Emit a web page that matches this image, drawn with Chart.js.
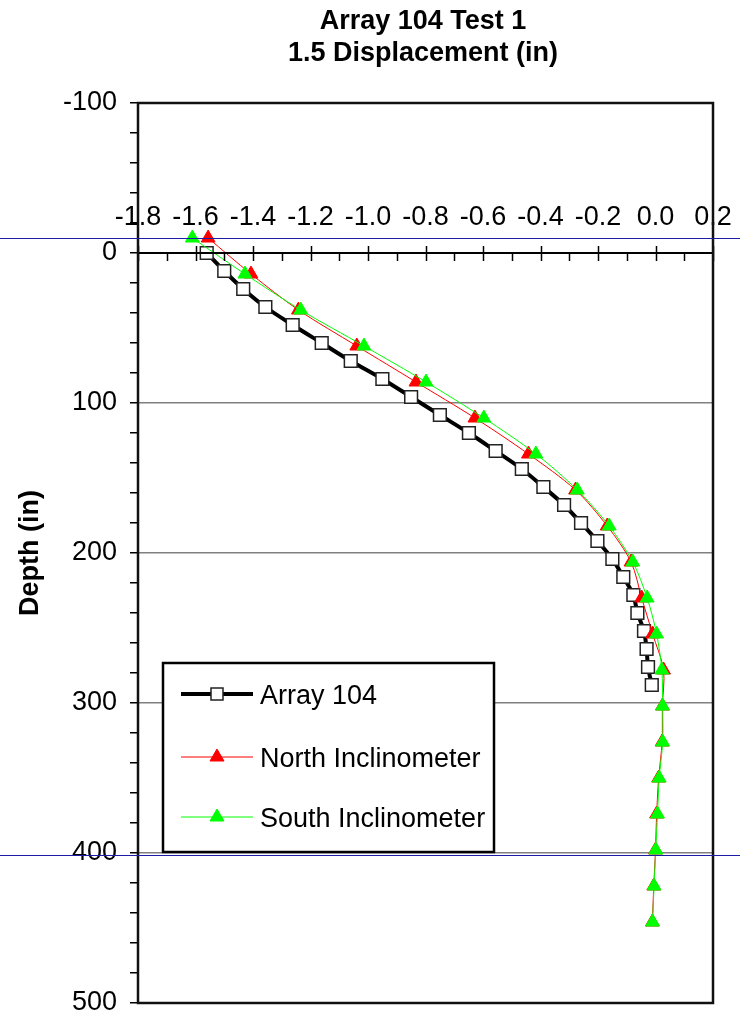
<!DOCTYPE html>
<html>
<head>
<meta charset="utf-8">
<script src="https://cdn.jsdelivr.net/npm/chart.js@4.4.0/dist/chart.umd.min.js"></script>
<style>
  html, body { margin: 0; padding: 0; background: #fff; }
  #wrap { width: 740px; height: 1016px; position: relative; }
</style>
</head>
<body>
<div id="wrap"><canvas id="myChart" width="740" height="1016"></canvas></div>
<script>
// chart text
const titleLines = ['Array 104 Test 1', '1.5 Displacement (in)']
const yTitle = 'Depth (in)'
const seriesNames = ['Array 104', 'North Inclinometer', 'South Inclinometer']

// depths (in) and displacements (in)
const arrayDepth = [0, 12, 24, 36, 48, 60, 72, 84, 96, 108, 120, 132, 144, 156, 168, 180, 192, 204, 216, 228, 240, 252, 264, 276, 288]
const arrayDisp = [-1.561, -1.500, -1.434, -1.357, -1.262, -1.161, -1.060, -0.950, -0.850, -0.750, -0.649, -0.556, -0.465, -0.390, -0.318, -0.259, -0.202, -0.150, -0.112, -0.077, -0.063, -0.040, -0.031, -0.026, -0.013]

const inclDepth = [-10, 14, 38, 62, 86, 110, 134, 158, 182, 206, 230, 254, 278, 302, 326, 350, 374, 398, 422, 446]
const northDisp = [-1.556, -1.407, -1.242, -1.039, -0.833, -0.628, -0.442, -0.278, -0.168, -0.085, -0.048, -0.010, 0.028, 0.024, 0.023, 0.011, 0.004, 0.000, -0.006, -0.011]
const southDisp = [-1.611, -1.428, -1.234, -1.014, -0.798, -0.597, -0.416, -0.272, -0.161, -0.079, -0.029, 0.004, 0.022, 0.025, 0.025, 0.013, 0.007, 0.001, -0.005, -0.010]

// axis ticks
const xTicks = [-1.8, -1.6, -1.4, -1.2, -1.0, -0.8, -0.6, -0.4, -0.2, 0.0, 0.2]
const xMinorTicks = [-1.7, -1.5, -1.3, -1.1, -0.9, -0.7, -0.5, -0.3, -0.1, 0.1]
const yTicks = [-100, 0, 100, 200, 300, 400, 500]

// stray blue guide lines in the original picture (depth values)
const guideDepths = [-10, 401.3]

const FONT = '"Liberation Sans", Arial, sans-serif'

const toPoints = (xs, ys) => xs.map((x, i) => ({ x: x, y: ys[i] }))

// draws axis at depth 0, frame, title, legend and the blue guide lines
const decorPlugin = {
    id: 'decor',
    afterDatasetsDraw(chart) {
        const ctx = chart.ctx
        const area = chart.chartArea
        const xs = chart.scales.x
        const ys = chart.scales.y
        const axisY = ys.getPixelForValue(0)

        ctx.save()
        // x axis line at depth 0
        ctx.strokeStyle = '#000'
        ctx.lineWidth = 2
        ctx.beginPath()
        ctx.moveTo(area.left, axisY)
        ctx.lineTo(area.right, axisY)
        ctx.stroke()

        ctx.lineWidth = 1.5
        xTicks.forEach(v => {
            const px = Math.round(xs.getPixelForValue(v)) + 0.5
            ctx.beginPath()
            ctx.moveTo(px, axisY - 7)
            ctx.lineTo(px, axisY + 8)
            ctx.stroke()
        })
        xMinorTicks.forEach(v => {
            const px = Math.round(xs.getPixelForValue(v)) + 0.5
            ctx.beginPath()
            ctx.moveTo(px, axisY)
            ctx.lineTo(px, axisY + 8)
            ctx.stroke()
        })

        ctx.fillStyle = '#000'
        ctx.font = '27px ' + FONT
        ctx.textAlign = 'center'
        ctx.textBaseline = 'alphabetic'
        xTicks.forEach(v => {
            ctx.fillText(v.toFixed(1), xs.getPixelForValue(v), axisY - 28)
        })

        // plot frame
        ctx.strokeStyle = '#111'
        ctx.lineWidth = 2.5
        ctx.strokeRect(area.left, area.top, area.right - area.left, area.bottom - area.top)

        // title
        ctx.font = 'bold 27px ' + FONT
        ctx.fillText(titleLines[0], 423, 29)
        ctx.fillText(titleLines[1], 423, 61)

        // legend
        const lx = 163, ly = 663, lw = 331, lh = 189
        ctx.fillStyle = '#fff'
        ctx.fillRect(lx, ly, lw, lh)
        ctx.strokeStyle = '#000'
        ctx.lineWidth = 2.5
        ctx.strokeRect(lx, ly, lw, lh)

        const rows = [694, 757, 817]
        chart.data.datasets.forEach((ds, i) => {
            const ry = rows[i]
            ctx.strokeStyle = ds.borderColor
            ctx.lineWidth = ds.borderWidth
            ctx.beginPath()
            ctx.moveTo(181, ry)
            ctx.lineTo(253, ry)
            ctx.stroke()
            ctx.fillStyle = ds.pointBackgroundColor
            ctx.strokeStyle = ds.pointBorderColor
            ctx.lineWidth = ds.pointBorderWidth
            ctx.beginPath()
            if (ds.pointStyle === 'rect') {
                ctx.rect(211, ry - 6, 12, 12)
            } else {
                ctx.moveTo(217, ry - 8)
                ctx.lineTo(224, ry + 4)
                ctx.lineTo(210, ry + 4)
                ctx.closePath()
            }
            ctx.fill()
            ctx.stroke()
            ctx.fillStyle = '#000'
            ctx.font = '27px ' + FONT
            ctx.textAlign = 'left'
            ctx.fillText(ds.label, 260, ry + 10)
        })

        // blue guide lines across the whole picture
        ctx.strokeStyle = '#1c1ca6'
        ctx.lineWidth = 1
        guideDepths.forEach(d => {
            const py = Math.round(ys.getPixelForValue(d)) + 0.5
            ctx.beginPath()
            ctx.moveTo(0, py)
            ctx.lineTo(chart.width, py)
            ctx.stroke()
        })
        ctx.restore()
    }
}

const chart = new Chart(document.querySelector('#myChart'), {
    type: 'scatter',
    data: {
        datasets: [{
            label: seriesNames[0],
            data: toPoints(arrayDisp, arrayDepth),
            showLine: true,
            borderColor: '#000',
            borderWidth: 4,
            tension: 0.3,
            pointStyle: 'rect',
            pointRadius: 9,
            pointBackgroundColor: '#fff',
            pointBorderColor: '#222',
            pointBorderWidth: 1.5,
            order: 2
        }, {
            label: seriesNames[1],
            data: toPoints(northDisp, inclDepth),
            showLine: true,
            borderColor: '#ff0000',
            borderWidth: 1,
            tension: 0.3,
            pointStyle: 'triangle',
            pointRadius: 8,
            pointBackgroundColor: '#ff0000',
            pointBorderColor: '#ff0000',
            pointBorderWidth: 1,
            order: 1
        }, {
            label: seriesNames[2],
            data: toPoints(southDisp, inclDepth),
            showLine: true,
            borderColor: '#00ff00',
            borderWidth: 1,
            tension: 0.3,
            pointStyle: 'triangle',
            pointRadius: 8,
            pointBackgroundColor: '#00ff00',
            pointBorderColor: '#00ff00',
            pointBorderWidth: 1,
            order: 0
        }]
    },
    options: {
        responsive: false,
        animation: false,
        layout: { padding: { top: 103, right: 27, bottom: 13, left: 0 } },
        plugins: {
            legend: { display: false },
            title: { display: false },
            tooltip: { enabled: false }
        },
        scales: {
            x: {
                type: 'linear',
                min: xTicks[0],
                max: xTicks[xTicks.length - 1],
                display: false
            },
            y: {
                type: 'linear',
                reverse: true,
                min: yTicks[0],
                max: yTicks[yTicks.length - 1],
                afterFit: s => {
                    s.width = 138
                    s.paddingTop = 0
                    s.paddingBottom = 0
                },
                border: { display: false },
                grid: {
                    color: c => (c.tick && yTicks.includes(c.tick.value) && c.tick.value > 0 && c.tick.value < 500) ? '#808080' : 'rgba(0,0,0,0)',
                    lineWidth: 1.5,
                    tickColor: '#000',
                    tickLength: 8,
                    tickWidth: 1.5
                },
                ticks: {
                    stepSize: 20,
                    autoSkip: false,
                    padding: 13,
                    color: '#000',
                    font: { family: FONT, size: 27 },
                    callback: v => yTicks.includes(v) ? v : ''
                },
                title: {
                    display: true,
                    text: yTitle,
                    color: '#000',
                    font: { family: FONT, size: 27, weight: 'bold' },
                    padding: { top: 14, bottom: 0 }
                }
            }
        }
    },
    plugins: [decorPlugin]
})
</script>
</body>
</html>
